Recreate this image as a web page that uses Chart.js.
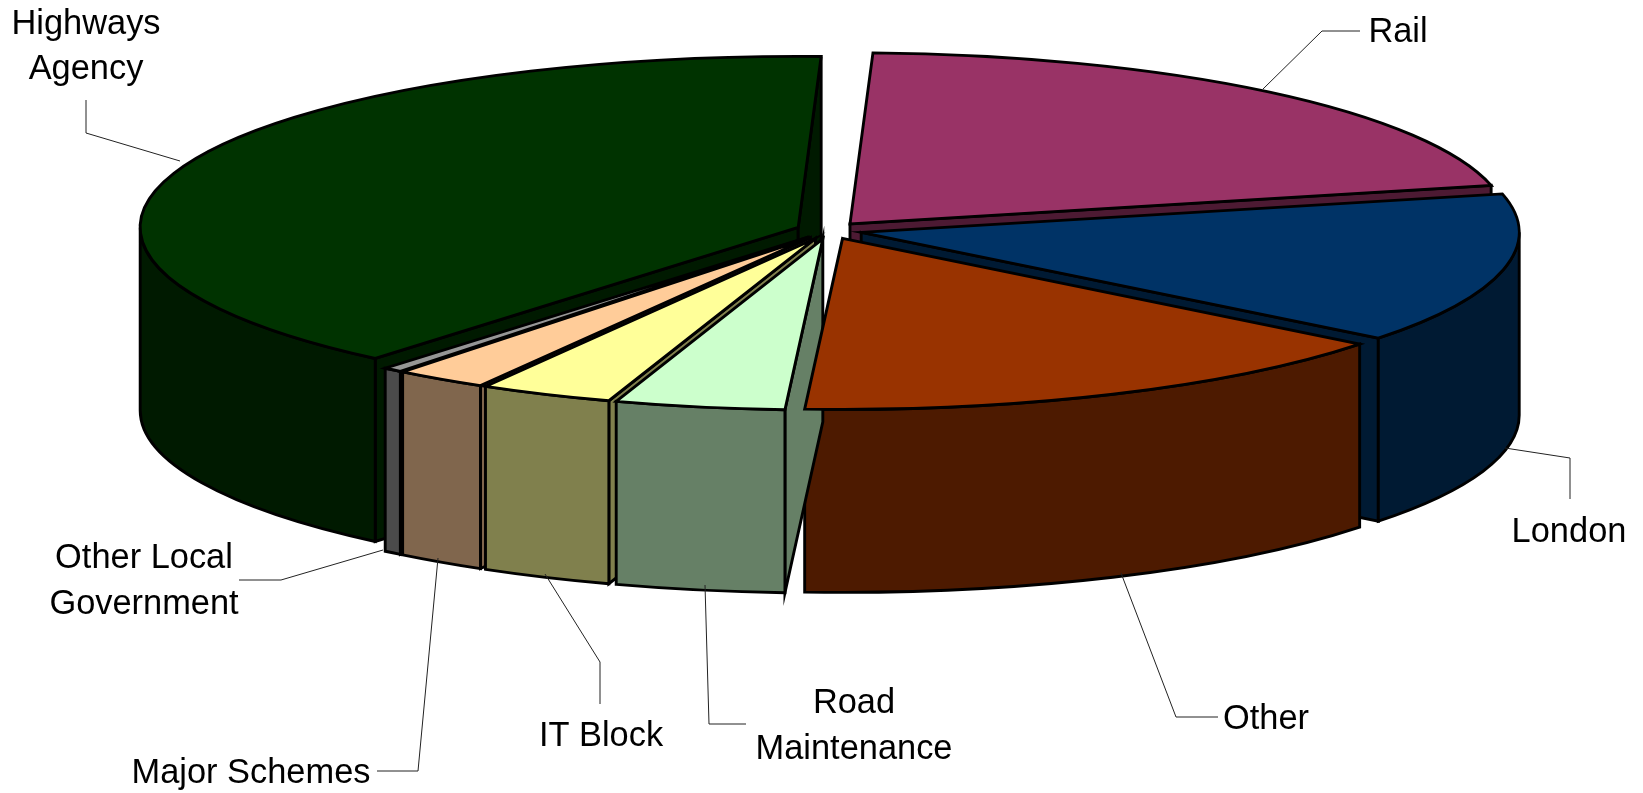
<!DOCTYPE html>
<html>
<head>
<meta charset="utf-8">
<title>Funding split</title>
<script src="https://cdn.jsdelivr.net/npm/chart.js@4/dist/chart.umd.js"></script>
<style>
  html, body { margin: 0; padding: 0; background: #fff; overflow: hidden; }
  #wrap { width: 1643px; height: 793px; }
</style>
</head>
<body>
<div id="wrap"><canvas id="pie"></canvas></div>
<script>
// ================= DATA =================
const categories = [
  ["Rail"],
  ["London"],
  ["Other"],
  ["Road", "Maintenance"],
  ["IT Block"],
  ["Major Schemes"],
  ["Other Local", "Government"],
  ["Highways", "Agency"],
];
const values = [75, 51.2, 55.1, 15, 11.8, 8.2, 1.7, 142];
const topColors = ["#993366", "#003366", "#993300", "#CCFFCC", "#FFFF99", "#FFCC99", "#969696", "#003300"];
const sideColors = ["#4D1A33", "#001A33", "#4D1A00", "#668066", "#80804D", "#80664D", "#4B4B4B", "#001A00"];

// ================= LOOK OF THE 3D PIE =================
const SQUASH = 0.26;
const DEPTH = 183;
const RADIUS = 658;
const EXPLODE = 33;
const OUTLINE = 2.9;
const FONT = '34.4px "Liberation Sans", Arial, sans-serif';

// callout text centres and leader lines, same order as categories
const callouts = [
  { x: 1398, y: [33], line: [[1360, 31], [1322, 31], [1263, 89]] },
  { x: 1569, y: [533], line: [[1570, 499], [1570, 458], [1505, 448]] },
  { x: 1266, y: [720], line: [[1218, 717], [1176, 717], [1121, 573]] },
  { x: 854, y: [704, 750], line: [[746, 724], [709, 724], [705, 585]] },
  { x: 601, y: [737], line: [[600, 704], [600, 662], [545, 574]] },
  { x: 251, y: [774], line: [[377, 771], [418, 771], [438, 558]] },
  { x: 144, y: [559, 605], line: [[239, 580], [281, 580], [383, 550]] },
  { x: 86, y: [25, 70], line: [[86, 100], [86, 133], [180, 161]] },
];

// ================= 3D HELPERS =================
function sliceCentre(arc) {
  const mid = (arc.startAngle + arc.endAngle) / 2;
  return {
    x: arc.x + Math.cos(mid) * EXPLODE,
    y: arc.y + Math.sin(mid) * EXPLODE * SQUASH,
  };
}

function rimPoint(c, r, angle) {
  return [c.x + Math.cos(angle) * r, c.y + Math.sin(angle) * r * SQUASH];
}

function drawFace(ctx, points, color) {
  ctx.beginPath();
  points.forEach((p, i) => (i ? ctx.lineTo(p[0], p[1]) : ctx.moveTo(p[0], p[1])));
  ctx.closePath();
  ctx.fillStyle = color;
  ctx.fill();
  ctx.stroke();
}

function drawWalls(ctx, arc, color) {
  const c = sliceCentre(arc);
  const r = arc.outerRadius;
  const a0 = arc.startAngle;
  const a1 = arc.endAngle;
  ctx.lineWidth = OUTLINE;
  ctx.strokeStyle = "#000";

  // cut faces, only the ones turned to the viewer
  [[a0, -Math.cos(a0)], [a1, Math.cos(a1)]].forEach(([angle, facing]) => {
    if (facing <= 0) return;
    const rim = rimPoint(c, r, angle);
    drawFace(ctx, [
      [c.x, c.y],
      rim,
      [rim[0], rim[1] + DEPTH],
      [c.x, c.y + DEPTH],
    ], color);
  });

  // outer wall, only the front half of the rim
  const lo = Math.max(a0, 0);
  const hi = Math.min(a1, Math.PI);
  if (lo < hi) {
    ctx.beginPath();
    ctx.ellipse(c.x, c.y, r, r * SQUASH, 0, lo, hi);
    ctx.ellipse(c.x, c.y + DEPTH, r, r * SQUASH, 0, hi, lo, true);
    ctx.closePath();
    ctx.fillStyle = color;
    ctx.fill();
    ctx.stroke();
  }
}

function drawTop(ctx, arc) {
  const c = sliceCentre(arc);
  ctx.save();
  ctx.translate(c.x, c.y);
  ctx.scale(1, SQUASH);
  ctx.translate(-arc.x, -arc.y);
  arc.draw(ctx);
  ctx.restore();

  ctx.beginPath();
  ctx.moveTo(c.x, c.y);
  ctx.ellipse(c.x, c.y, arc.outerRadius, arc.outerRadius * SQUASH, 0, arc.startAngle, arc.endAngle);
  ctx.closePath();
  ctx.lineWidth = OUTLINE;
  ctx.strokeStyle = "#000";
  ctx.stroke();
}

// ================= PLUGIN =================
const pie3d = {
  id: "pie3d",
  beforeDatasetDraw(chart, args) {
    const ctx = chart.ctx;
    const arcs = args.meta.data;
    const order = arcs
      .map((arc, i) => ({ arc, i }))
      .sort((a, b) =>
        Math.sin((a.arc.startAngle + a.arc.endAngle) / 2) -
        Math.sin((b.arc.startAngle + b.arc.endAngle) / 2));

    ctx.save();
    ctx.lineJoin = "miter";
    order.forEach(({ arc, i }) => drawWalls(ctx, arc, sideColors[i]));
    order.forEach(({ arc }) => drawTop(ctx, arc));
    ctx.restore();
    return false;
  },
  afterDraw(chart) {
    const ctx = chart.ctx;
    ctx.save();
    ctx.lineWidth = 1;
    ctx.strokeStyle = "#222";
    ctx.fillStyle = "#000";
    ctx.font = FONT;
    ctx.textAlign = "center";
    ctx.textBaseline = "middle";
    callouts.forEach((c, i) => {
      ctx.beginPath();
      c.line.forEach((p, k) => (k ? ctx.lineTo(p[0], p[1]) : ctx.moveTo(p[0], p[1])));
      ctx.stroke();
      categories[i].forEach((text, k) => ctx.fillText(text, c.x, c.y[k]));
    });
    ctx.restore();
  },
};

// ================= CHART =================
new Chart(document.getElementById("pie"), {
  type: "pie",
  data: {
    labels: categories,
    datasets: [
      {
        data: values,
        backgroundColor: topColors,
        borderWidth: 0,
      },
    ],
  },
  options: {
    responsive: true,
    maintainAspectRatio: false,
    animation: false,
    rotation: 2,
    radius: RADIUS,
    layout: { padding: { left: 15, bottom: 332 } },
    plugins: {
      legend: { display: false },
      tooltip: { enabled: false },
    },
  },
  plugins: [pie3d],
});
</script>
</body>
</html>
